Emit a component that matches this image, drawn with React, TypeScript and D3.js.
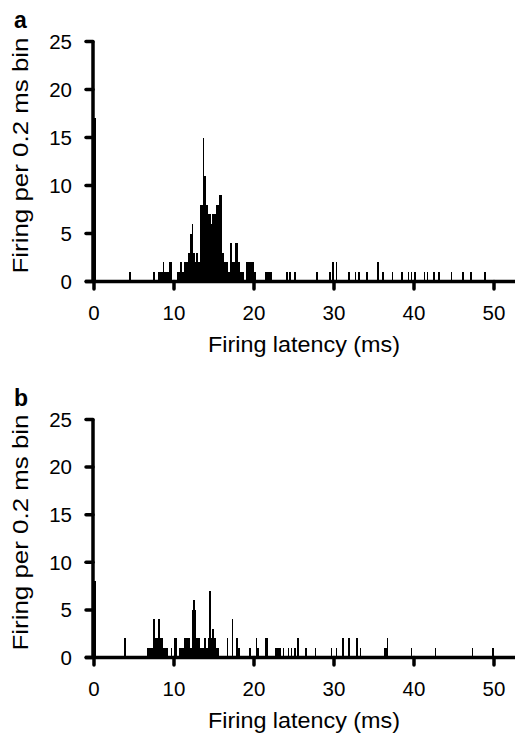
import React from "react";
import * as d3 from "d3";

// bin start (ms) and count per 0.2 ms bin
const latencyA: number[] = [0.0, 4.4, 7.4, 8.0, 8.2, 8.4, 8.6, 8.8, 9.0, 9.2, 9.4, 9.6, 10.4, 10.6, 10.8, 11.0, 11.2, 11.4, 11.6, 11.8, 12.0, 12.2, 12.4, 12.6, 12.8, 13.0, 13.2, 13.4, 13.6, 13.8, 14.0, 14.2, 14.4, 14.6, 14.8, 15.0, 15.2, 15.4, 15.6, 15.8, 16.0, 16.2, 16.4, 16.6, 16.8, 17.0, 17.2, 17.4, 17.6, 17.8, 18.0, 18.2, 18.4, 18.6, 19.0, 19.2, 19.4, 19.6, 19.8, 20.0, 21.4, 21.6, 21.8, 22.0, 24.0, 24.4, 25.0, 27.8, 29.4, 29.8, 30.2, 31.8, 32.6, 33.0, 34.0, 35.4, 36.0, 37.2, 38.4, 39.2, 39.6, 40.0, 41.2, 41.6, 42.4, 43.0, 44.6, 46.0, 47.0, 48.8];
const countA: number[] = [17, 1, 1, 1, 1, 1, 2, 1, 1, 1, 2, 2, 1, 1, 2, 1, 2, 2, 2, 3, 5, 6, 3, 2, 3, 2, 8, 8, 15, 11, 8, 7, 7, 6, 7, 7, 8, 8, 9, 9, 3, 2, 2, 2, 1, 4, 2, 2, 4, 4, 2, 1, 1, 1, 2, 2, 2, 2, 2, 1, 1, 1, 1, 1, 1, 1, 1, 1, 1, 2, 2, 1, 1, 1, 1, 2, 1, 1, 1, 1, 1, 1, 1, 1, 1, 1, 1, 1, 1, 1];

const latencyB: number[] = [0.0, 3.8, 6.6, 6.8, 7.0, 7.2, 7.4, 7.6, 7.8, 8.0, 8.2, 8.4, 8.6, 8.8, 9.0, 9.6, 10.0, 10.2, 10.6, 10.8, 11.0, 11.2, 11.4, 11.6, 11.8, 12.0, 12.2, 12.4, 12.6, 12.8, 13.0, 13.2, 13.4, 13.6, 13.8, 14.0, 14.2, 14.4, 14.6, 14.8, 15.0, 15.2, 15.4, 16.6, 17.2, 17.8, 18.0, 19.4, 20.2, 20.4, 21.4, 21.6, 22.6, 22.8, 23.0, 23.2, 23.6, 24.2, 24.6, 25.0, 25.4, 26.4, 27.6, 29.6, 30.2, 31.0, 31.8, 32.8, 33.2, 36.2, 36.4, 36.6, 39.6, 42.6, 47.2, 49.8];
const countB: number[] = [8, 2, 1, 1, 1, 1, 4, 2, 2, 4, 2, 2, 1, 1, 1, 1, 2, 2, 1, 1, 1, 2, 2, 2, 2, 1, 5, 6, 5, 2, 2, 1, 1, 1, 2, 1, 2, 7, 2, 3, 2, 1, 1, 2, 4, 2, 1, 1, 2, 1, 2, 2, 1, 1, 1, 1, 1, 1, 1, 1, 2, 1, 1, 1, 1, 2, 2, 2, 1, 1, 1, 2, 1, 1, 1, 1];

const xTicks: number[] = [0, 10, 20, 30, 40, 50];
const yTicks: number[] = [0, 5, 10, 15, 20, 25];
const binWidth = 0.2;
const panelLabels: string[] = ["a", "b"];
const xTitle = "Firing latency (ms)";
const yTitle = "Firing per 0.2 ms bin";

const FONT = "'Liberation Sans', Arial, sans-serif";

function Panel({ label, latency, count, y0, y25 }: { label: string; latency: number[]; count: number[]; y0: number; y25: number }) {
  const x = d3.scaleLinear().domain([0, 50]).range([94, 494]);
  const y = d3.scaleLinear().domain([0, 25]).range([y0, y25]);
  const axisX = x(0) - 1;
  return (
    <g>
      <text x={14} y={y25 - 14} fontFamily={FONT} fontWeight="bold" fontSize={23}>{label}</text>
      <line x1={axisX} x2={axisX} y1={y(25)} y2={y(0)} stroke="#000" strokeWidth={3.5} />
      <line x1={85} x2={515} y1={y(0)} y2={y(0)} stroke="#000" strokeWidth={3.5} />
      {yTicks.map((v) => (
        <g key={v}>
          <line x1={86} x2={axisX} y1={y(v)} y2={y(v)} stroke="#000" strokeWidth={3.5} strokeLinecap="round" />
          <text x={72} y={y(v)} dy="0.36em" textAnchor="end" fontFamily={FONT} fontSize={20.5}>{v}</text>
        </g>
      ))}
      {xTicks.map((v) => (
        <g key={v}>
          <line x1={x(v)} x2={x(v)} y1={y(0)} y2={y(0) + 7.5} stroke="#000" strokeWidth={3.5} strokeLinecap="round" />
          <text x={x(v)} y={y(0) + 38.5} textAnchor="middle" fontFamily={FONT} fontSize={20.5}>{v}</text>
        </g>
      ))}
      <g shapeRendering="crispEdges">
        {latency.map((t, i) => (
          <rect key={i} x={x(t)} y={y(count[i])} width={x(t + binWidth) - x(t)} height={y(0) - y(count[i])} fill="#000" />
        ))}
      </g>
      <text x={304} y={y(0) + 70} textAnchor="middle" fontFamily={FONT} fontSize={21.5} textLength={192} lengthAdjust="spacingAndGlyphs">{xTitle}</text>
      <text transform={`translate(28,${(y(0) + y(25)) / 2 - 6}) rotate(-90)`} textAnchor="middle" fontFamily={FONT} fontSize={21.5} textLength={236} lengthAdjust="spacingAndGlyphs">{yTitle}</text>
    </g>
  );
}

export default function App() {
  return (
    <svg width={515} height={737} style={{ position: "absolute", left: 0, top: 0, background: "#fff" }}>
      <rect width={515} height={737} fill="#fff" />
      <Panel label={panelLabels[0]} latency={latencyA} count={countA} y0={281.5} y25={41.5} />
      <Panel label={panelLabels[1]} latency={latencyB} count={countB} y0={657.5} y25={419.5} />
    </svg>
  );
}
